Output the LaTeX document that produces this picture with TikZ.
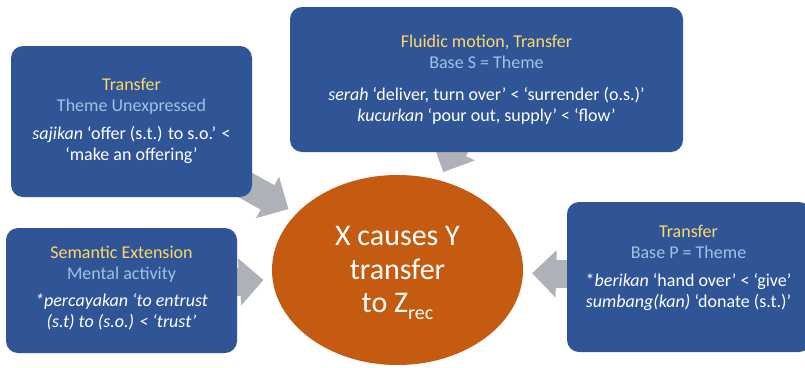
\documentclass[tikz,border=0pt]{standalone}
\usepackage{fontspec}
\setmainfont{Carlito}
\usetikzlibrary{arrows.meta,backgrounds,shapes.geometric}
\definecolor{boxblue}{RGB}{47,85,151}
\definecolor{titleyellow}{RGB}{255,217,102}
\definecolor{subblue}{RGB}{157,195,230}
\definecolor{arrowgray}{RGB}{174,177,184}
\definecolor{hubfill}{RGB}{197,90,17}
\newcommand{\ttl}[1]{\textcolor{titleyellow}{#1}}
\newcommand{\sbt}[1]{\textcolor{subblue}{#1}}
\begin{document}
\begin{tikzpicture}[x=1pt,y=-1pt,
  panel/.style={fill=boxblue, rounded corners=12pt, inner sep=0pt, minimum width=#1},
  panelbody/.style={text=white, align=center, inner sep=0pt,
    font=\fontsize{18}{21}\selectfont},
  hub/.style={ellipse, fill=hubfill, inner sep=0pt,
    minimum width=251pt, minimum height=190pt},
  hubbody/.style={text=white, align=center, inner sep=0pt,
    font=\fontsize{30}{33.5}\selectfont},
  feed/.style={draw=arrowgray, line width=28pt,
    -{Triangle[width=46pt,length=24pt]}, shorten >=9pt},
]
\useasboundingbox (0,0) rectangle (805,367);
\clip (0,0) rectangle (805,367);

% central ellipse
\node[hub] (hub) at (397.5,270) {};
\node[hubbody] (hubtext) at (397.5,273)
  {X causes Y\\transfer\\to Z\raisebox{-0.22em}{\fontsize{20}{20}\selectfont rec}};

% surrounding panels
\node[panel=241pt, minimum height=151pt] (tl) at (131.5,121.5) {};
\node[panel=393pt, minimum height=145pt] (tc) at (486.5,79.5) {};
\node[panel=231pt, minimum height=125pt] (bl) at (121.5,290.5) {};
\node[panel=244pt, minimum height=150pt] (rt) at (689,277) {};

\node[panelbody] (tltext) at (131.5,121)
  {\ttl{Transfer}\\ \sbt{Theme Unexpressed}\\[7pt]
   \textit{sajikan} ‘offer (s.t.) to s.o.’ <\\ ‘make an offering’};
\node[panelbody] (tctext) at (486.5,79.5)
  {\ttl{Fluidic motion, Transfer}\\ \sbt{Base S = Theme}\\[11pt]
   \textit{serah} ‘deliver, turn over’ < ‘surrender (o.s.)’\\
   \textit{kucurkan} ‘pour out, supply’ < ‘flow’};
\node[panelbody] (bltext) at (121.5,288)
  {\ttl{Semantic Extension}\\ \sbt{Mental activity}\\[6pt]
   \textit{*percayakan ‘to entrust}\\ \textit{(s.t) to (s.o.) < ‘trust’}};
\node[panelbody] (rttext) at (688.5,268)
  {\ttl{Transfer}\\ \sbt{Base P = Theme}\\[7pt]
   *\textit{berikan} ‘hand over’ < ‘give’\\
   \textit{sumbang(kan)} ‘donate (s.t.)’};

% block arrows feeding the centre, drawn beneath the panels
\begin{scope}[on background layer]
  \draw[feed] (tl.center) -- (hub);
  \draw[feed] (tc.center) -- (hub);
  \draw[feed] (bl.center) -- (hub);
  \draw[feed] (rt.center) -- (hub);
\end{scope}
\end{tikzpicture}
\end{document}
